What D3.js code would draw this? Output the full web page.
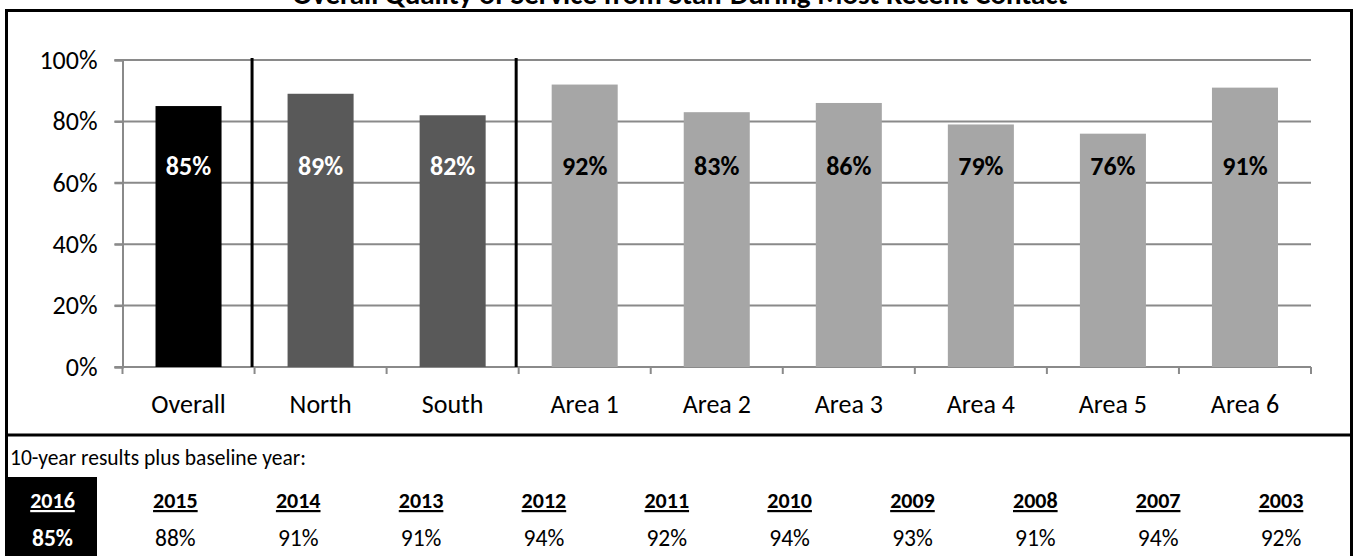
<!DOCTYPE html>
<html>
<head>
<meta charset="utf-8">
<script src="https://cdn.jsdelivr.net/npm/d3@7"></script>
<style>
  html, body { margin: 0; padding: 0; background: #fff; }
  svg { display: block; }
  text { font-family: Carlito, Calibri, Lato, "Open Sans", sans-serif; }
</style>
</head>
<body>
<svg id="chart" width="1354" height="556"></svg>
<script>
// Satisfaction by area (share rating overall quality as good)
const categories = ["Overall", "North", "South", "Area 1", "Area 2", "Area 3", "Area 4", "Area 5", "Area 6"];
const values = [85, 89, 82, 92, 83, 86, 79, 76, 91];
const barGroups = ["overall", "region", "region", "area", "area", "area", "area", "area", "area"];
const yTicks = [0, 20, 40, 60, 80, 100];

// Trend table: ten years plus the baseline year
const years = ["2016", "2015", "2014", "2013", "2012", "2011", "2010", "2009", "2008", "2007", "2003"];
const yearValues = [85, 88, 91, 91, 94, 92, 94, 93, 91, 94, 92];

const titleText = "Overall Quality of Service from Staff During Most Recent Contact";
const tableHeading = "10-year results plus baseline year:";

const W = 1354, H = 556;
const svg = d3.select("#chart");
svg.append("rect").attr("width", W).attr("height", H).attr("fill", "#fff");

const groupColor = d3.scaleOrdinal()
  .domain(["overall", "region", "area"])
  .range(["#000000", "#595959", "#a6a6a6"]);
const labelColor = d3.scaleOrdinal()
  .domain(["overall", "region", "area"])
  .range(["#ffffff", "#ffffff", "#000000"]);

// Title (runs off the top edge of the page)
svg.append("text")
  .attr("x", 680).attr("y", 4)
  .attr("text-anchor", "middle")
  .attr("font-weight", "bold")
  .attr("font-size", 29)
  .attr("fill", "#000")
  .text(titleText);

// Chart area
const plot = { left: 122.5, right: 1311, top: 60, bottom: 367 };
const x = d3.scaleBand().domain(categories).range([plot.left, plot.right]).paddingInner(0.5).paddingOuter(0.25);
const y = d3.scaleLinear().domain([0, 100]).range([plot.bottom, plot.top]);
const step = x.step();

// Gridlines
svg.append("g")
  .selectAll("line")
  .data(yTicks)
  .join("line")
  .attr("x1", plot.left - 8).attr("x2", plot.right)
  .attr("y1", d => y(d)).attr("y2", d => y(d))
  .attr("stroke", "#8a8a8a").attr("stroke-width", 2);

// Y axis
const yAxis = svg.append("g")
  .attr("transform", `translate(${plot.left},0)`)
  .call(d3.axisLeft(y).tickValues(yTicks).tickFormat(d => d + "%").tickSize(8).tickPadding(17));
yAxis.select(".domain").attr("stroke", "#8a8a8a").attr("stroke-width", 2);
yAxis.selectAll(".tick line").attr("stroke", "#8a8a8a").attr("stroke-width", 2);
yAxis.selectAll(".tick text")
  .attr("font-size", 26).attr("fill", "#000")
  .style("font-family", "Carlito, Calibri, Lato, sans-serif");

// X axis with ticks on category boundaries
const xAxisG = svg.append("g").attr("transform", `translate(0,${plot.bottom})`);
xAxisG.append("line")
  .attr("x1", plot.left).attr("x2", plot.right)
  .attr("stroke", "#8a8a8a").attr("stroke-width", 2);
const boundaries = d3.range(categories.length + 1).map(i => plot.left + i * step);
xAxisG.selectAll("line.tick")
  .data(boundaries)
  .join("line")
  .attr("class", "tick")
  .attr("x1", d => d).attr("x2", d => d)
  .attr("y1", 0).attr("y2", 7)
  .attr("stroke", "#8a8a8a").attr("stroke-width", 2);
xAxisG.selectAll("text")
  .data(categories)
  .join("text")
  .attr("x", d => x(d) + x.bandwidth() / 2)
  .attr("y", 46)
  .attr("text-anchor", "middle")
  .attr("font-size", 26)
  .attr("fill", "#000")
  .text(d => d);

// Bars
svg.append("g")
  .selectAll("rect")
  .data(categories)
  .join("rect")
  .attr("x", d => x(d))
  .attr("width", x.bandwidth())
  .attr("y", (d, i) => y(values[i]))
  .attr("height", (d, i) => y(0) - y(values[i]))
  .attr("fill", (d, i) => groupColor(barGroups[i]));

// Value labels
svg.append("g")
  .selectAll("text")
  .data(categories)
  .join("text")
  .attr("x", d => x(d) + x.bandwidth() / 2)
  .attr("y", y(66) + 11)
  .attr("text-anchor", "middle")
  .attr("font-size", 26)
  .attr("font-weight", "bold")
  .attr("fill", (d, i) => labelColor(barGroups[i]))
  .text((d, i) => values[i] + "%");

// Separators between the overall, regional and area groups
const separators = ["North", "Area 1"];
svg.append("g")
  .selectAll("line")
  .data(separators)
  .join("line")
  .attr("x1", d => x(d) - (step - x.bandwidth()) / 2 - 2.5)
  .attr("x2", d => x(d) - (step - x.bandwidth()) / 2 - 2.5)
  .attr("y1", y(100) - 2).attr("y2", y(0))
  .attr("stroke", "#000").attr("stroke-width", 3);

// Frame and divider
const frame = svg.append("g").attr("stroke", "#000").attr("stroke-width", 3).attr("fill", "none");
frame.append("line").attr("x1", 5).attr("x2", 1353).attr("y1", 10.5).attr("y2", 10.5);
frame.append("line").attr("x1", 6.5).attr("x2", 6.5).attr("y1", 9).attr("y2", H);
frame.append("line").attr("x1", 1351.5).attr("x2", 1351.5).attr("y1", 9).attr("y2", H);
frame.append("line").attr("x1", 5).attr("x2", 1353).attr("y1", 435).attr("y2", 435);

// Trend table
svg.append("text")
  .attr("x", 10).attr("y", 465)
  .attr("font-size", 21.5).attr("fill", "#000")
  .text(tableHeading);

const col = d3.scalePoint().domain(years).range([52.5, 1281]);
svg.append("rect")
  .attr("x", 8).attr("y", 477)
  .attr("width", 89).attr("height", H - 477)
  .attr("fill", "#000");

const cells = svg.append("g").selectAll("g")
  .data(years)
  .join("g")
  .attr("transform", d => `translate(${col(d)},0)`);
cells.append("text")
  .attr("y", 508)
  .attr("text-anchor", "middle")
  .attr("font-size", 22)
  .attr("font-weight", "bold")
  .attr("text-decoration", "underline")
  .attr("fill", (d, i) => i === 0 ? "#fff" : "#000")
  .text(d => d);
cells.append("text")
  .attr("y", 546)
  .attr("text-anchor", "middle")
  .attr("font-size", 23.5)
  .attr("font-weight", (d, i) => i === 0 ? "bold" : "normal")
  .attr("fill", (d, i) => i === 0 ? "#fff" : "#000")
  .text((d, i) => yearValues[i] + "%");
</script>
</body>
</html>
